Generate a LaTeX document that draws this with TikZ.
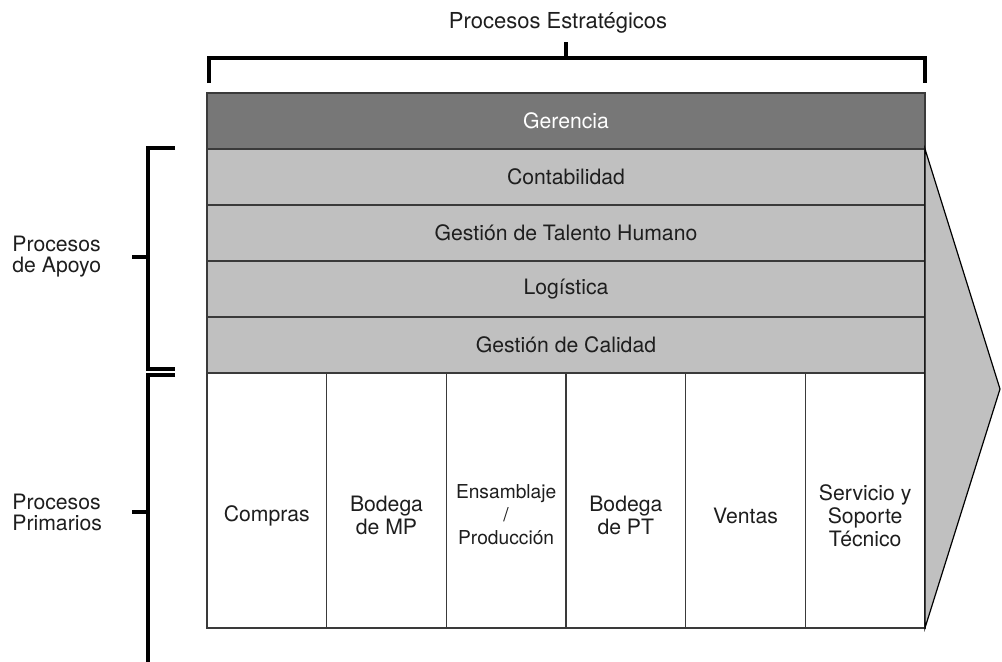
\documentclass[tikz,border=0pt]{standalone}
\usepackage{fontspec}
\setmainfont{TeX Gyre Heros}
\usetikzlibrary{positioning}
\definecolor{darkgr}{HTML}{777777}
\definecolor{lightgr}{HTML}{C0C0C0}
\definecolor{edgegr}{HTML}{3A3A3A}
\definecolor{textgr}{HTML}{1E1E1E}

\begin{document}
\begin{tikzpicture}[x=0.5pt, y=-0.5pt, text=textgr,
        row/.style={draw=edgegr, line width=0.8pt, fill=lightgr, minimum width=359pt, minimum height=28pt,
            inner sep=0pt, outer sep=0pt, font=\fontsize{10.6}{12}\selectfont},
        col/.style={draw=edgegr, line width=0.8pt, fill=white, minimum width=59.83pt, minimum height=127.5pt,
            inner sep=0pt, outer sep=0pt},
        coltext/.style={align=center, font=\fontsize{10.6}{11.5}\selectfont},
        side/.style={align=left, anchor=west, inner sep=0pt, font=\fontsize{10.6}{10.5}\selectfont},
        brk/.style={line width=2pt}]
    \useasboundingbox (0,0) rectangle (1002,661);
    % Rows of the strategic and support processes.
        \node[row, fill=darkgr, text=white] (ger) at (566,121) {Gerencia};
        \node[row, below=0pt of ger] (cont) {Contabilidad};
        \node[row, below=0pt of cont] (tal) {Gestión de Talento Humano};
        \node[row, below=0pt of tal] (log) {Logística};
        \node[row, below=0pt of log] (cal) {Gestión de Calidad};
    % Columns of the primary processes.
        \node[col, anchor=north west] (c1) at (cal.south west) {};
        \node[col, right=0pt of c1] (c2) {};
        \node[col, right=0pt of c2] (c3) {};
        \node[col, right=0pt of c3] (c4) {};
        \node[col, right=0pt of c4] (c5) {};
        \node[col, right=0pt of c5] (c6) {};
        \node[coltext] (t1) at ([yshift=-7.5pt]c1.center) {Compras};
        \node[coltext] (t2) at ([yshift=-7.5pt]c2.center) {Bodega\\de MP};
        \node[coltext, font=\fontsize{9.6}{11.5}\selectfont] (t3) at ([yshift=-7pt]c3.center) {Ensamblaje\\/\\Producción};
        \node[coltext] (t4) at ([yshift=-7.5pt]c4.center) {Bodega\\de PT};
        \node[coltext] (t5) at ([yshift=-7.5pt]c5.center) {Ventas};
        \node[coltext] (t6) at ([yshift=-7.5pt]c6.center) {Servicio y\\Soporte\\Técnico};
    % The arrow head on the right.
        \coordinate (tip) at (1000,389);
        \draw[fill=lightgr, line width=0.6pt] (cont.north east) -- (tip) -- (c6.south east) -- cycle;
    % Top bracket and its label.
        \draw[brk] ([xshift=1pt, yshift=5pt]ger.north west) |- ([yshift=17.5pt]ger.north east) -- ([yshift=5pt]ger.north east);
        \draw[brk] ([yshift=17.5pt]ger.north) -- ([yshift=25.5pt]ger.north);
        \node[anchor=base, inner sep=0pt, font=\fontsize{11}{13}\selectfont] (estr) at ([xshift=-4pt, yshift=32.5pt]ger.north) {Procesos Estratégicos};
    % Left brackets and their labels.
        \draw[brk] ([xshift=-16pt, yshift=0.5pt]cont.north west) -| ([xshift=-29.5pt, yshift=2pt]cal.south west) -- ([xshift=-16pt, yshift=2pt]cal.south west);
        \coordinate (ap) at ([xshift=-29.5pt, yshift=2pt]tal.south west);
        \draw[brk] (ap) -- ++(-16,0);
        \node[side] (apoyo) at (12,257) {Procesos\\de Apoyo};
        \draw[brk] ([xshift=-16pt, yshift=-1pt]c1.north west) -| ([xshift=-29.5pt]c1.south west) -- ++(0,40);
        \coordinate (pr) at ([xshift=-29.5pt, yshift=-5.75pt]c1.west);
        \draw[brk] (pr) -- ++(-16,0);
        \node[side] (prim) at (12,512) {Procesos\\Primarios};
\end{tikzpicture}
\end{document}
